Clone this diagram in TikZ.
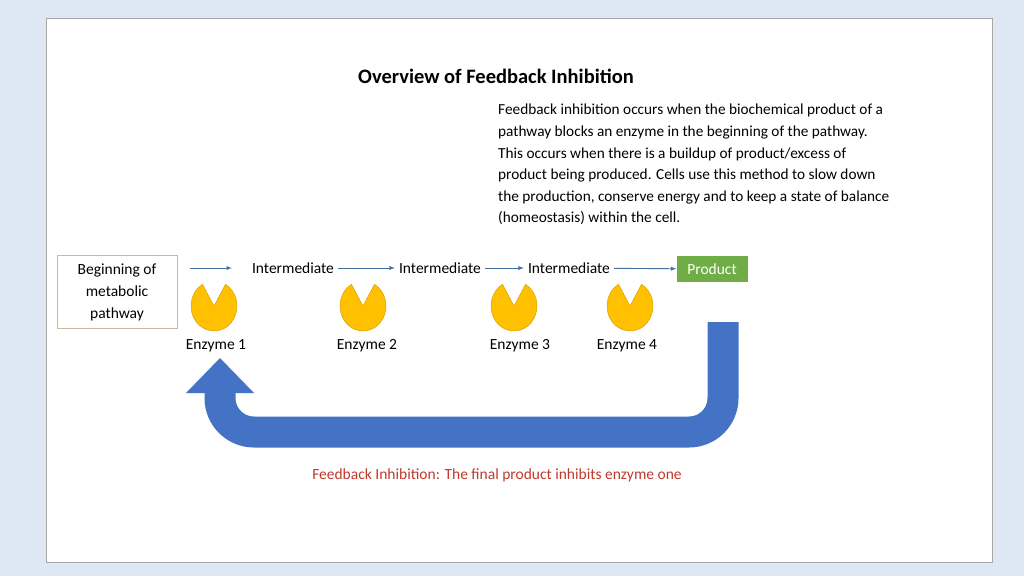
\documentclass[tikz,border=0pt]{standalone}
\usepackage{fontspec}
\setmainfont{Carlito}
\usetikzlibrary{calc}
\definecolor{bgblue}{HTML}{DDE8F4}
\definecolor{prodgreen}{HTML}{70AD47}
\definecolor{arrowblue}{HTML}{4472C4}
\definecolor{enzy}{HTML}{FFC000}
\definecolor{enzyline}{HTML}{D9A300}
\definecolor{flowline}{HTML}{41719C}
\definecolor{redtxt}{HTML}{C0392B}
\definecolor{boxline}{HTML}{C9B89A}
\begin{document}
\begin{tikzpicture}[x=1pt,y=-1pt,
  lbl/.style={font=\fontsize{15.5}{19}\selectfont, inner sep=4pt},
  flow/.style={draw=flowline, line width=0.9pt, -latex},
  enzymelbl/.style={font=\fontsize{15.5}{18}\selectfont}]
\useasboundingbox (0,0) rectangle (1024,576);
\fill[bgblue] (0,0) rectangle (1024,576);
\filldraw[fill=white, draw=gray!70] (46,18) rectangle (992,562);
\node[font=\bfseries\fontsize{20.5}{24}\selectfont] (title) at (496,76) {Overview of Feedback Inhibition};
\node[anchor=north west, align=left, font=\fontsize{15.3}{21.6}\selectfont, inner sep=0pt] (para) at (498,104)
 {Feedback inhibition occurs when the biochemical product of a\\
  pathway blocks an enzyme in the beginning of the pathway.\\
  This occurs when there is a buildup of product/excess of\\
  product being produced. Cells use this method to slow down\\
  the production, conserve energy and to keep a state of balance\\
  (homeostasis) within the cell.};
\node[draw=boxline, minimum width=120, minimum height=73, align=center, lbl, line width=0.8pt, font=\fontsize{15.5}{22}\selectfont] (start) at (117,292) {Beginning of\\metabolic\\pathway};
\coordinate (s0) at (190,268);
\node[lbl] (i1) at (293,268) {Intermediate};
\node[lbl] (i2) at (440,268) {Intermediate};
\node[lbl] (i3) at (569,268) {Intermediate};
\node[fill=prodgreen, text=white, lbl, minimum width=71, minimum height=26] (prod) at (712,269) {Product};
\draw[flow] (s0) -- (232,268);
\draw[flow] (i1) -- (i2);
\draw[flow] (i2) -- (i3);
\draw[flow] (i3) -- (prod);
\foreach \n/\x/\lx in {1/214/216, 2/363/367, 3/514/520, 4/630/627}{
  \coordinate (e\n) at (\x,306);
  \filldraw[fill=enzy, draw=enzyline, line width=0.5pt]
    ($(e\n)+(-60:23 and 25)$) arc[start angle=-60, end angle=240, x radius=23, y radius=25] -- (e\n) -- cycle;
  \node[enzymelbl] (el\n) at (\lx,346) {Enzyme \n};
}
\coordinate (fbtop) at (723,322);
\coordinate (fbend) at (220,392);
\draw[arrowblue, line width=31pt, rounded corners=34] (fbtop) -- (723,432) -- (220,432) -- (fbend);
\fill[arrowblue] (186,393) -- (254,393) -- (220,358) -- cycle;
\node[text=redtxt, font=\fontsize{15.5}{18}\selectfont] (fbtxt) at (497,475) {Feedback Inhibition: The final product inhibits enzyme one};
\end{tikzpicture}
\end{document}
